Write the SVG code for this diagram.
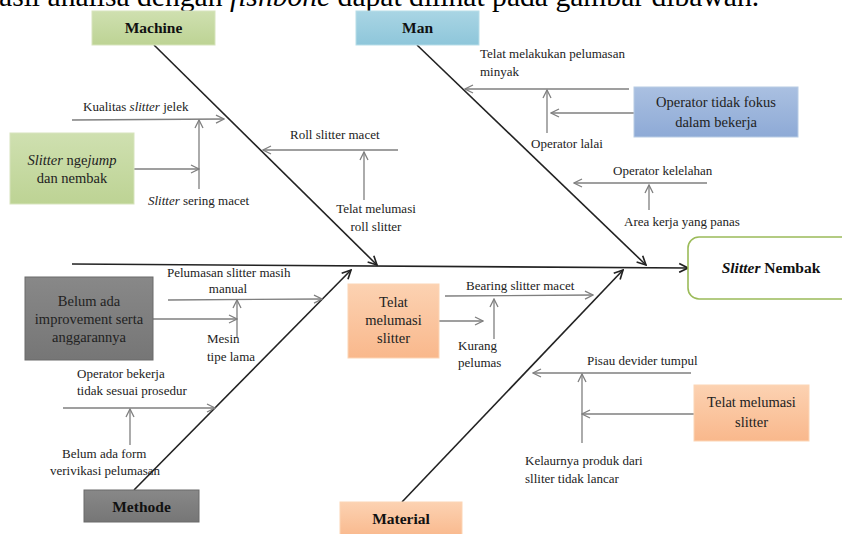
<svg xmlns="http://www.w3.org/2000/svg" width="842" height="534" viewBox="0 0 842 534">
<style>
text{font-family:"Liberation Serif","Times New Roman",serif;fill:#222}
.s{font-size:13px}
.b{font-size:14.5px}
.h{font-size:15.5px;font-weight:bold;fill:#111}
.m{stroke:#222;stroke-width:1.6;fill:none}
.g{stroke:#7f7f7f;stroke-width:1.3;fill:none}
</style>
<defs>
<linearGradient id="gG" x1="0" y1="0" x2="0" y2="1"><stop offset="0" stop-color="#cfe0b0"/><stop offset="1" stop-color="#bdd394"/></linearGradient>
<linearGradient id="gB" x1="0" y1="0" x2="0" y2="1"><stop offset="0" stop-color="#a9d5e4"/><stop offset="1" stop-color="#8ec6da"/></linearGradient>
<linearGradient id="gB2" x1="0" y1="0" x2="0" y2="1"><stop offset="0" stop-color="#aac0e1"/><stop offset="1" stop-color="#8eaad6"/></linearGradient>
<linearGradient id="gK" x1="0" y1="0" x2="0" y2="1"><stop offset="0" stop-color="#888888"/><stop offset="1" stop-color="#767676"/></linearGradient>
<linearGradient id="gP" x1="0" y1="0" x2="0" y2="1"><stop offset="0" stop-color="#fcd2b2"/><stop offset="1" stop-color="#f9b88c"/></linearGradient>
<marker id="ag" viewBox="0 0 10 10" refX="9" refY="5" markerWidth="10" markerHeight="10" markerUnits="userSpaceOnUse" orient="auto"><path d="M1,1 L9,5 L1,9" fill="none" stroke="#7f7f7f" stroke-width="1.3"/></marker>
<marker id="ak" viewBox="0 0 10 10" refX="9" refY="5" markerWidth="11" markerHeight="11" markerUnits="userSpaceOnUse" orient="auto"><path d="M1,1 L9,5 L1,9" fill="none" stroke="#222" stroke-width="1.5"/></marker>
</defs>
<rect width="842" height="534" fill="#fff"/>
<text x="-1" y="5.5" style="font-size:29.6px;fill:#000">asil analisa dengan <tspan font-style="italic">fishbone</tspan> dapat dilihat pada gambar dibawah.</text>

<g id="connectors">
<path class="m" d="M72,264 L688,268" marker-end="url(#ak)"/>
<path class="m" d="M154,45 L377,265" marker-end="url(#ak)"/>
<path class="m" d="M417,45 L646,265" marker-end="url(#ak)"/>
<path class="m" d="M134,490 L351,270" marker-end="url(#ak)"/>
<path class="m" d="M402,502 L623,270" marker-end="url(#ak)"/>
<path class="g" d="M72,120 L224,119" marker-end="url(#ag)"/>
<path class="g" d="M199,189 L199,120" marker-end="url(#ag)"/>
<path class="g" d="M134,169 L199,169" marker-end="url(#ag)"/>
<path class="g" d="M398,150 L263,150" marker-end="url(#ag)"/>
<path class="g" d="M364,200 L364,152" marker-end="url(#ag)"/>
<path class="g" d="M629,89 L465,89" marker-end="url(#ag)"/>
<path class="g" d="M547,133 L547,90" marker-end="url(#ag)"/>
<path class="g" d="M634,113 L551,113" marker-end="url(#ag)"/>
<path class="g" d="M707,183 L574,183" marker-end="url(#ag)"/>
<path class="g" d="M649,210 L649,185" marker-end="url(#ag)"/>
<path class="g" d="M168,300 L322,299" marker-end="url(#ag)"/>
<path class="g" d="M237,337 L237,300" marker-end="url(#ag)"/>
<path class="g" d="M153,319 L237,319" marker-end="url(#ag)"/>
<path class="g" d="M63,408 L215,408" marker-end="url(#ag)"/>
<path class="g" d="M130,445 L130,409" marker-end="url(#ag)"/>
<path class="g" d="M445,296 L593,295" marker-end="url(#ag)"/>
<path class="g" d="M439,321 L483,321" marker-end="url(#ag)"/>
<path class="g" d="M494,339 L494,299" marker-end="url(#ag)"/>
<path class="g" d="M691,373 L533,373" marker-end="url(#ag)"/>
<path class="g" d="M582,443 L582,374" marker-end="url(#ag)"/>
<path class="g" d="M694,414 L582,414" marker-end="url(#ag)"/>
</g>

<g id="machine"><rect x="92" y="11" width="123" height="34" fill="url(#gG)" stroke="#d7e4bd" stroke-width="1"/><text class="h" x="153.5" y="33" text-anchor="middle">Machine</text></g>
<g id="man"><rect x="356" y="11" width="123" height="34" fill="url(#gB)" stroke="#b7dde8" stroke-width="1"/><text class="h" x="417.5" y="33" text-anchor="middle">Man</text></g>
<g id="methode"><rect x="84" y="490" width="115" height="32" fill="url(#gK)" stroke="#6a6a6a" stroke-width="1"/><text class="h" x="141.5" y="512" text-anchor="middle">Methode</text></g>
<g id="material"><rect x="340" y="502" width="122" height="36" fill="url(#gP)" stroke="#fcd5b5" stroke-width="1"/><text class="h" x="401" y="524" text-anchor="middle">Material</text></g>
<g id="effect"><rect x="688" y="237" width="170" height="62" rx="11" fill="#fff" stroke="#9bbb59" stroke-width="1.6"/><text class="h" x="771" y="273" text-anchor="middle"><tspan font-style="italic">Slitter</tspan> Nembak</text></g>

<g id="slitter-ngejump"><rect x="10" y="133" width="124" height="71" fill="url(#gG)" stroke="#d7e4bd" stroke-width="1"/><text class="b" x="72" y="165" text-anchor="middle"><tspan font-style="italic">Slitter</tspan> nge<tspan font-style="italic">jump</tspan></text><text class="b" x="72" y="183" text-anchor="middle">dan nembak</text></g>
<g id="operator-tidak-fokus"><rect x="634" y="87" width="164" height="50" fill="url(#gB2)" stroke="#b8cce4" stroke-width="1"/><text class="b" x="716" y="107" text-anchor="middle">Operator tidak fokus</text><text class="b" x="716" y="127" text-anchor="middle">dalam bekerja</text></g>
<g id="belum-ada-improvement"><rect x="25" y="277" width="128" height="83" fill="url(#gK)" stroke="#6a6a6a" stroke-width="1"/><text class="b" x="89" y="306" text-anchor="middle">Belum ada</text><text class="b" x="89" y="324" text-anchor="middle">improvement serta</text><text class="b" x="89" y="342" text-anchor="middle">anggarannya</text></g>
<g id="telat-melumasi-1"><rect x="348" y="284" width="91" height="74" fill="url(#gP)" stroke="#fcd5b5" stroke-width="1"/><text class="b" x="393.5" y="307" text-anchor="middle">Telat</text><text class="b" x="393.5" y="325" text-anchor="middle">melumasi</text><text class="b" x="393.5" y="343" text-anchor="middle">slitter</text></g>
<g id="telat-melumasi-2"><rect x="694" y="385" width="115" height="56" fill="url(#gP)" stroke="#fcd5b5" stroke-width="1"/><text class="b" x="751.5" y="407" text-anchor="middle">Telat melumasi</text><text class="b" x="751.5" y="427" text-anchor="middle">slitter</text></g>

<g id="labels">
<text class="s" x="83" y="111">Kualitas <tspan font-style="italic">slitter</tspan> jelek</text>
<text class="s" x="148" y="205"><tspan font-style="italic">Slitter</tspan> sering macet</text>
<text class="s" x="290" y="139">Roll slitter macet</text>
<text class="s" x="376" y="213" text-anchor="middle">Telat melumasi</text>
<text class="s" x="376" y="231" text-anchor="middle">roll slitter</text>
<text class="s" x="480" y="58">Telat melakukan pelumasan</text>
<text class="s" x="480" y="76">minyak</text>
<text class="s" x="531" y="148">Operator lalai</text>
<text class="s" x="613" y="175">Operator kelelahan</text>
<text class="s" x="624" y="226">Area kerja yang panas</text>
<text class="s" x="167" y="277">Pelumasan slitter masih</text>
<text class="s" x="228" y="293" text-anchor="middle">manual</text>
<text class="s" x="207" y="343">Mesin</text>
<text class="s" x="207" y="361">tipe lama</text>
<text class="s" x="77" y="378">Operator bekerja</text>
<text class="s" x="77" y="395">tidak sesuai prosedur</text>
<text class="s" x="62" y="458">Belum ada form</text>
<text class="s" x="50" y="475">verivikasi pelumasan</text>
<text class="s" x="466" y="290">Bearing slitter macet</text>
<text class="s" x="458" y="350">Kurang</text>
<text class="s" x="458" y="367">pelumas</text>
<text class="s" x="587" y="365">Pisau devider tumpul</text>
<text class="s" x="525" y="465">Kelaurnya produk dari</text>
<text class="s" x="525" y="483">slliter tidak lancar</text>
</g>
</svg>
